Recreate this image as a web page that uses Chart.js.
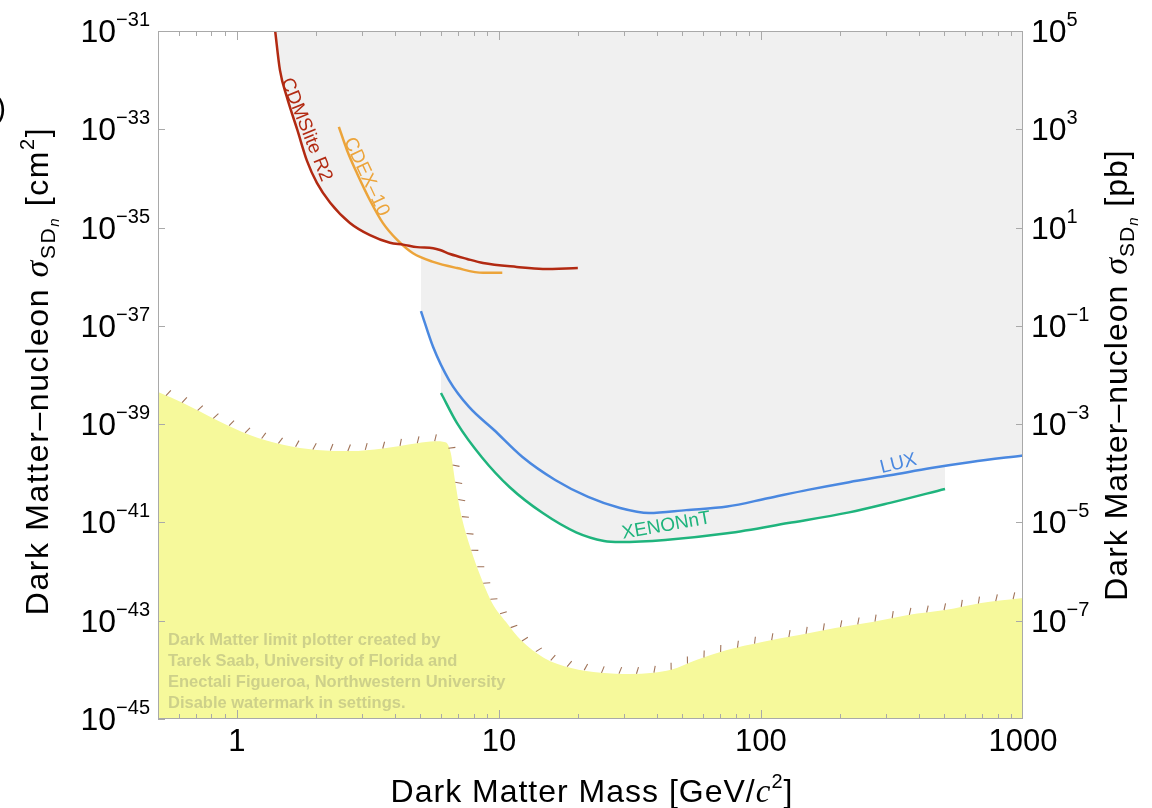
<!DOCTYPE html>
<html>
<head>
<meta charset="utf-8">
<script src="https://cdn.jsdelivr.net/npm/chart.js@4.4.1/dist/chart.umd.min.js"></script>
<style>
  html, body { margin: 0; padding: 0; background: #fff; }
  #wrap { width: 1152px; height: 808px; }
</style>
</head>
<body>
<div id="wrap"><canvas id="chart"></canvas></div>
<script>
// Limites (masa en GeV/c^2, seccion eficaz en cm^2)
const cdmsMass  = [1.40, 1.46, 1.55, 1.70, 1.85, 2.02, 2.27, 2.70, 3.22, 3.84, 4.31, 4.87, 5.61, 5.96, 6.51, 7.56, 8.70, 11.7, 14.7, 20.0];
const cdmsSigma = [1.0e-31, 1.6e-32, 4.6e-33, 9.8e-34, 2.3e-34, 8.1e-35, 3.2e-35, 1.24e-35, 7.0e-36, 4.9e-36, 4.5e-36, 4.0e-36, 3.8e-36, 3.5e-36, 2.9e-36, 2.3e-36, 1.9e-36, 1.58e-36, 1.44e-36, 1.5e-36];

const cdexMass  = [2.45, 2.63, 2.87, 3.22, 3.61, 4.09, 4.70, 5.61, 6.92, 8.70, 10.3];
const cdexSigma = [1.12e-33, 3.8e-34, 1.29e-34, 3.6e-35, 1.23e-35, 5.6e-36, 3.0e-36, 2.0e-36, 1.5e-36, 1.2e-36, 1.2e-36];

const luxMass  = [5.04, 5.61, 6.45, 7.69, 9.58, 12.3, 16.4, 21.9, 29.0, 37.4, 51.8, 74.3, 106, 151, 217, 311, 446, 634, 1000];
const luxSigma = [2.0e-37, 3.7e-38, 7.9e-39, 2.24e-39, 7.6e-40, 2.14e-40, 7.3e-41, 3.3e-41, 1.96e-41, 1.55e-41, 1.78e-41, 2.1e-41, 3.1e-41, 4.6e-41, 6.6e-41, 9.1e-41, 1.28e-40, 1.7e-40, 2.3e-40];

const xenonMass  = [6.01, 6.92, 8.62, 11.0, 14.7, 19.7, 25.2, 29.0, 43.1, 74.3, 127, 217, 311, 504];
const xenonSigma = [4.3e-39, 1.05e-39, 2.1e-40, 5.2e-41, 1.55e-41, 6.3e-42, 4.2e-42, 4.0e-42, 4.4e-42, 6.0e-42, 9.7e-42, 1.6e-41, 2.5e-41, 4.8e-41];

// "niebla" de neutrinos (region amarilla)
const fogMass  = [0.5, 0.623, 0.84, 1.12, 1.50, 2.02, 2.70, 3.61, 4.87, 5.70, 6.25, 6.55, 6.80, 7.11, 7.76, 8.70, 9.42, 10.65, 12.15, 14.87, 18.86, 24.5, 31.6, 38.8, 45.4, 57.0, 73.6, 101, 140, 192, 266, 364, 504, 692, 1000];
const fogSigma = [4.5e-39, 2.7e-39, 1.2e-39, 6.0e-40, 3.8e-40, 2.97e-40, 2.83e-40, 3.2e-40, 4.1e-40, 4.5e-40, 4.3e-40, 2.6e-40, 7.0e-41, 1.8e-41, 3.2e-42, 5.9e-43, 2.3e-43, 9.4e-44, 4.0e-44, 1.75e-44, 1.09e-44, 8.7e-45, 8.2e-45, 8.7e-45, 1.0e-44, 1.6e-44, 2.5e-44, 3.7e-44, 5.1e-44, 7.1e-44, 9.4e-44, 1.31e-43, 1.65e-43, 2.3e-43, 2.9e-43];

// ticks
const xTickLabels = [1, 10, 100, 1000];
const leftExps  = [-31, -33, -35, -37, -39, -41, -43, -45];
const rightExps = [5, 3, 1, -1, -3, -5, -7];

const FF = '"Liberation Sans", Arial, sans-serif';
const SERIF = '"Liberation Serif", "Times New Roman", serif';
const GREY = '#f0f0f0';

const pts = (xs, ys) => xs.map((m, i) => ({ x: m, y: ys[i] }));

function drawRich(ctx, parts, x, y, align, angle, spacing) {
  ctx.save();
  ctx.translate(x, y);
  ctx.rotate(angle || 0);
  ctx.textAlign = 'left';
  ctx.textBaseline = 'alphabetic';
  if ('letterSpacing' in ctx) ctx.letterSpacing = (spacing || 0) + 'px';
  let w = 0;
  parts.forEach(p => { ctx.font = p.f; p.w = ctx.measureText(p.t).width; w += p.w; });
  let cx = align === 'center' ? -w / 2 : (align === 'right' ? -w : 0);
  parts.forEach(p => {
    ctx.font = p.f;
    ctx.fillStyle = p.c || '#000';
    ctx.fillText(p.t, cx, p.dy || 0);
    cx += p.w;
  });
  ctx.restore();
}

function powLabel(exp) {
  return [
    { t: '10', f: '32px ' + FF },
    { t: exp < 0 ? '\u2212' + (-exp) : String(exp), f: '20px ' + FF, dy: -16 }
  ];
}

function drawHatch(ctx, p, step, len, ang) {
  let carry = step / 2;
  const c = Math.cos(ang), s = Math.sin(ang);
  for (let i = 0; i < p.length - 1; i++) {
    const dx = p[i + 1].x - p[i].x, dy = p[i + 1].y - p[i].y;
    const L = Math.hypot(dx, dy);
    if (!L) continue;
    const ux = dx / L, uy = dy / L;
    const nx = uy, ny = -ux; // hacia afuera (arriba)
    const mx = nx * c + ux * s, my = ny * c + uy * s;
    let d = carry;
    while (d < L) {
      const x0 = p[i].x + ux * d, y0 = p[i].y + uy * d;
      ctx.moveTo(x0, y0);
      ctx.lineTo(x0 + mx * len, y0 + my * len);
      d += step;
    }
    carry = d - L;
  }
}

const decor = {
  id: 'decor',
  afterDraw(chart) {
    const ctx = chart.ctx, a = chart.chartArea;
    const xs = chart.scales.x, yl = chart.scales.y, yr = chart.scales.y2;
    ctx.save();

    // marcas sobre el borde de la region amarilla
    const fog = chart.getDatasetMeta(4).data.map(e => ({ x: e.x, y: e.y }));
    ctx.beginPath();
    drawHatch(ctx, fog, 17.5, 7, 0.35);
    ctx.strokeStyle = 'rgba(150,100,70,0.9)';
    ctx.lineWidth = 1.1;
    ctx.stroke();

    // marca de agua
    ctx.font = 'bold 16.5px ' + FF;
    ctx.fillStyle = '#cdd08a';
    ctx.textAlign = 'left';
    ctx.textBaseline = 'alphabetic';
    ['Dark Matter limit plotter created by',
     'Tarek Saab, University of Florida and',
     'Enectali Figueroa, Northwestern University',
     'Disable watermark in settings.'].forEach((s, i) => ctx.fillText(s, 168, 645 + i * 21));

    // marco
    ctx.strokeStyle = '#a9a9a9';
    ctx.lineWidth = 1;
    ctx.strokeRect(a.left + 0.5, a.top + 0.5, a.right - a.left - 1, a.bottom - a.top - 1);

    // ticks del eje x (arriba y abajo, hacia adentro)
    ctx.beginPath();
    [0.1, 1, 10, 100].forEach(dec => {
      for (let k = 1; k <= 9; k++) {
        const v = dec * k;
        if (v < 0.5 || v > 1000) continue;
        const px = Math.round(xs.getPixelForValue(v)) + 0.5;
        const len = k === 1 ? 9 : 5;
        ctx.moveTo(px, a.bottom); ctx.lineTo(px, a.bottom - len);
        ctx.moveTo(px, a.top); ctx.lineTo(px, a.top + len);
      }
    });
    leftExps.forEach(e => {
      const py = Math.round(yl.getPixelForValue(Math.pow(10, e))) + 0.5;
      ctx.moveTo(a.left, py); ctx.lineTo(a.left + 7, py);
    });
    rightExps.forEach(e => {
      const py = Math.round(yr.getPixelForValue(Math.pow(10, e))) + 0.5;
      ctx.moveTo(a.right, py); ctx.lineTo(a.right - 7, py);
    });
    ctx.stroke();

    // etiquetas de los ticks
    leftExps.forEach(e => drawRich(ctx, powLabel(e), 150, yl.getPixelForValue(Math.pow(10, e)) + 11, 'right'));
    rightExps.forEach(e => drawRich(ctx, powLabel(e), 1031, yr.getPixelForValue(Math.pow(10, e)) + 11, 'left'));
    xTickLabels.forEach(v => drawRich(ctx, [{ t: String(v), f: '31px ' + FF }], xs.getPixelForValue(v), 751, 'center'));

    // titulos de ejes
    const F = '32px ' + FF;
    drawRich(ctx, [
      { t: 'Dark Matter Mass [GeV/', f: F },
      { t: 'c', f: 'italic 33px ' + SERIF },
      { t: '2', f: '20px ' + FF, dy: -14 },
      { t: ']', f: F }
    ], 592, 802, 'center', 0, 1);
    const sigma = [
      { t: '\u03c3', f: 'italic 34px ' + SERIF },
      { t: 'SD', f: '21px ' + FF, dy: 7 },
      { t: 'n', f: 'italic 15px ' + FF, dy: 11 }
    ];
    drawRich(ctx, [
      { t: 'Dark Matter\u2013nucleon ', f: F }, ...sigma.map(p => ({ ...p })),
      { t: ' [cm', f: F }, { t: '2', f: '20px ' + FF, dy: -14 }, { t: ']', f: F }
    ], 48, 371, 'center', -Math.PI / 2, 1.6);
    drawRich(ctx, [
      { t: 'Dark Matter\u2013nucleon ', f: F }, ...sigma.map(p => ({ ...p })),
      { t: ' [pb]', f: F }
    ], 1127, 375, 'center', -Math.PI / 2, 1);

    // nombres de las curvas
    const lab = (t, c, x, y, deg) =>
      drawRich(ctx, [{ t, f: '19px ' + FF, c, dy: 7 }], x, y, 'center', deg * Math.PI / 180);
    lab('CDMSlite R2', '#b22a12', 308, 129, 68);
    lab('CDEX\u201310', '#eca43a', 368, 176, 65);
    lab('LUX', '#4a88e0', 898, 462, -14);
    lab('XENONnT', '#1fb47d', 666, 524, -10);

    // resto de la etiqueta del panel, cortada en el borde
    ctx.font = '30px ' + FF;
    ctx.fillStyle = '#000';
    ctx.fillText(')', -4, 118);
    ctx.restore();
  }
};

new Chart(document.getElementById('chart'), {
  type: 'line',
  data: {
    datasets: [
      { label: 'CDMSlite R2', data: pts(cdmsMass, cdmsSigma), borderColor: '#b22a12', backgroundColor: GREY, fill: 'end' },
      { label: 'CDEX-10', data: pts(cdexMass, cdexSigma), borderColor: '#eca43a', backgroundColor: GREY, fill: 'end' },
      { label: 'LUX', data: pts(luxMass, luxSigma), borderColor: '#4a88e0', backgroundColor: GREY, fill: 'end' },
      { label: 'XENONnT', data: pts(xenonMass, xenonSigma), borderColor: '#1fb47d', backgroundColor: GREY, fill: 'end' },
      { label: 'Neutrino fog', data: pts(fogMass, fogSigma), borderColor: 'rgba(0,0,0,0)', backgroundColor: '#f6f99b', fill: 'start' }
    ]
  },
  options: {
    responsive: true,
    maintainAspectRatio: false,
    animation: false,
    layout: { padding: { left: 158, right: 129, top: 31, bottom: 89 } },
    elements: {
      point: { radius: 0 },
      line: { borderWidth: 2.5, cubicInterpolationMode: 'monotone' }
    },
    scales: {
      x: { type: 'logarithmic', min: 0.5, max: 1000, display: false },
      y: { type: 'logarithmic', min: 1e-45, max: 1e-31, display: false },
      y2: { type: 'logarithmic', position: 'right', min: 1e-9, max: 1e5, display: false }
    },
    plugins: {
      legend: { display: false },
      tooltip: { enabled: false },
      filler: { drawTime: 'beforeDatasetsDraw' }
    }
  },
  plugins: [decor]
});
</script>
</body>
</html>
